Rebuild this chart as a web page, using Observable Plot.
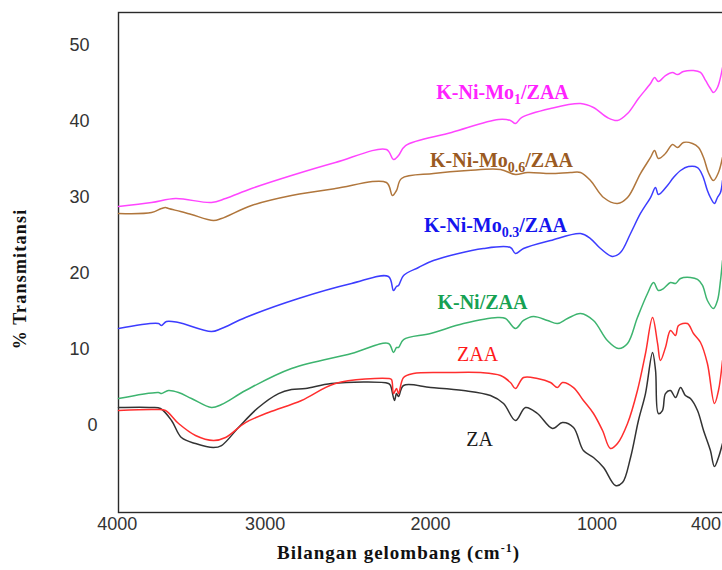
<!DOCTYPE html>
<html>
<head>
<meta charset="utf-8">
<script src="https://cdn.jsdelivr.net/npm/d3@7"></script>
<script src="https://cdn.jsdelivr.net/npm/@observablehq/plot@0.6"></script>
<style>
  html, body { margin: 0; padding: 0; background: #fff; overflow: hidden; }
  #chart { width: 722px; height: 570px; overflow: hidden; }
  #chart svg { max-width: none !important; display: block; }
</style>
</head>
<body>
<div id="chart"></div>
<script>
// ---- data: [wavenumber (cm-1), % transmittance] ----
const za = [[4000,2.37],[3803,2.37],[3750,2.23],[3684,0.66],[3625,-1.58],[3541,-2.37],[3434,-2.89],[3386,-2.63],[3285,-0.26],[3166,2.37],[3046,4.20],[2969,4.73],[2885,4.86],[2731,5.52],[2391,5.52],[2379,5.26],[2355,3.29],[2343,4.20],[2331,3.81],[2301,5.26],[2140,4.99],[1944,4.60],[1783,3.94],[1705,2.89],[1634,0.66],[1574,2.37],[1503,1.58],[1413,-0.39],[1354,0.39],[1288,-0.26],[1229,-3.29],[1169,-4.20],[1109,-5.52],[1038,-7.88],[996,-7.50],[948,-4.20],[901,0.66],[859,4.20],[817,9.59],[799,7.23],[782,1.58],[758,1.97],[740,4.20],[710,4.60],[680,3.68],[650,4.99],[621,3.94],[591,3.55],[549,1.97],[513,-0.66],[472,-3.29],[448,-5.39],[424,-4.20],[400,-2.37]];
const zaa = [[4000,1.97],[3779,2.10],[3720,1.97],[3642,0.26],[3541,-1.31],[3434,-1.97],[3362,-1.58],[3243,0.39],[3106,1.71],[2909,3.29],[2707,5.52],[2391,6.18],[2373,6.04],[2361,4.20],[2343,4.86],[2331,4.20],[2301,6.31],[2242,6.83],[2039,6.96],[1842,6.96],[1723,6.57],[1664,5.65],[1634,4.86],[1586,6.31],[1503,6.18],[1425,5.65],[1384,4.99],[1354,5.65],[1288,4.99],[1229,3.29],[1169,1.58],[1115,-0.66],[1068,-3.02],[1026,-2.37],[966,0.26],[907,4.60],[859,9.46],[817,14.19],[787,10.78],[770,8.54],[740,10.25],[710,12.48],[680,11.83],[662,13.14],[609,13.40],[573,12.09],[531,10.91],[490,8.15],[448,2.89],[424,4.60],[400,8.54]];
const kni = [[4000,3.55],[3762,4.34],[3744,4.20],[3702,4.60],[3642,4.34],[3565,3.55],[3446,2.37],[3386,2.76],[3243,4.60],[2969,7.49],[2611,9.46],[2391,10.78],[2361,9.59],[2343,10.25],[2331,10.25],[2301,11.30],[2140,12.09],[1944,13.40],[1741,14.19],[1693,14.06],[1634,12.75],[1586,13.80],[1527,14.32],[1443,13.80],[1384,13.40],[1324,14.06],[1246,14.72],[1169,13.80],[1086,11.17],[1020,10.12],[966,10.78],[907,14.19],[847,17.35],[811,18.79],[782,17.74],[752,18.00],[710,18.79],[680,18.66],[650,19.32],[591,19.45],[549,19.19],[519,18.40],[490,16.43],[454,15.37],[430,16.43],[412,19.05],[400,21.68]];
const kniMo03 = [[4000,12.75],[3762,13.40],[3744,13.14],[3714,13.67],[3642,13.53],[3446,12.35],[3386,12.75],[3243,14.19],[2927,16.69],[2611,18.66],[2391,19.58],[2361,17.74],[2343,18.27],[2331,18.40],[2301,19.71],[2212,20.76],[2123,21.68],[1825,23.26],[1664,23.39],[1634,22.60],[1586,23.26],[1425,24.31],[1246,25.23],[1187,24.57],[1127,23.26],[1056,22.21],[1008,22.73],[948,25.23],[889,27.86],[829,29.96],[799,31.27],[782,30.35],[728,31.54],[692,32.59],[650,33.51],[603,34.03],[549,33.90],[519,32.85],[490,30.88],[472,29.96],[448,29.17],[430,29.96],[412,30.62],[400,32.19]];
const kniMo06 = [[4000,27.86],[3803,27.99],[3744,28.52],[3720,28.65],[3702,28.52],[3630,28.12],[3565,27.73],[3434,26.94],[3386,27.20],[3207,28.91],[2969,30.22],[2707,31.14],[2403,31.93],[2367,30.22],[2343,30.88],[2313,32.46],[2123,33.11],[1920,33.51],[1723,33.64],[1634,32.98],[1562,33.25],[1425,33.11],[1306,33.25],[1246,33.25],[1187,32.19],[1109,29.96],[1026,29.17],[966,29.96],[889,33.11],[829,35.22],[805,36.14],[782,35.09],[740,35.74],[698,36.93],[668,36.53],[633,37.19],[579,37.06],[543,36.53],[513,35.22],[484,33.25],[454,32.19],[424,33.25],[400,35.22]];
const kniMo1 = [[4000,28.78],[3803,29.30],[3660,29.83],[3446,29.30],[3362,29.83],[3207,31.14],[2969,32.85],[2707,34.56],[2403,36.27],[2361,34.95],[2331,35.48],[2289,36.79],[2015,38.50],[1735,40.21],[1664,40.08],[1634,39.68],[1598,40.47],[1425,41.66],[1246,42.31],[1169,41.79],[1086,40.47],[1026,40.08],[966,41.00],[901,42.97],[829,44.94],[805,45.73],[782,45.20],[740,45.99],[698,46.39],[668,46.12],[633,46.52],[573,46.65],[531,46.39],[501,45.34],[472,44.28],[454,43.76],[430,44.42],[400,47.04]];

const seriesNames  = ["ZA", "ZAA", "K-Ni/ZAA", "K-Ni-Mo0.3/ZAA", "K-Ni-Mo0.6/ZAA", "K-Ni-Mo1/ZAA"];
const seriesData   = [za, zaa, kni, kniMo03, kniMo06, kniMo1];
const lineColors   = ["#333333", "#ff2e2e", "#3db46f", "#3c3cff", "#b0763c", "#ff45ff"];
const labelColors  = ["#1a1a1a", "#ff1a1a", "#16a152", "#1414ee", "#9a5a22", "#ff22ff"];
const labelWeights = ["normal", "normal", "bold", "bold", "bold", "bold"];
const labelWn      = [1848, 1860, 1831, 1753, 1717, 1711];
const labelT       = [-1.84, 9.33, 16.16, 26.28, 34.82, 43.76];

const yTicks = [0, 10, 20, 30, 40, 50];
const xTickText = ["4000", "3000", "2000", "1000", "400"];
const xTickAt   = [4008, 3126, 2140, 1148, 498];

const xTitle = "Bilangan gelombang (cm-1)";
const yTitle = "% Transmitansi";

const serif = "'Liberation Serif', 'Times New Roman', serif";

const marks = [
  Plot.frame({stroke: "#2a2a2a", strokeWidth: 1.4}),
  ...seriesData.map((pts, i) => Plot.line(pts, {
    x: d => d[0], y: d => d[1], stroke: lineColors[i], strokeWidth: 1.5, curve: "catmull-rom"
  })),
  ...seriesNames.map((name, i) => Plot.text([name], {
    x: () => labelWn[i], y: () => labelT[i], text: d => d,
    fill: labelColors[i], fontWeight: labelWeights[i], fontSize: 20, fontFamily: serif
  })),
  Plot.axisY(yTicks.filter(d => d !== 0), {anchor: "left", tickSize: 0, tickPadding: 29, label: null}),
  Plot.axisY([0], {anchor: "left", tickSize: 0, tickPadding: 21, label: null}),
  Plot.text(xTickText, {x: (d, i) => xTickAt[i], frameAnchor: "bottom", dy: 17, text: d => d}),
  Plot.text([xTitle], {frameAnchor: "bottom", dx: -33.5, dy: 46, text: d => d,
    fontFamily: serif, fontWeight: "bold", fontSize: 19, fill: "#111"})
];

const svg = Plot.plot({
  width: 745, height: 570,
  marginLeft: 118, marginRight: 0, marginTop: 12, marginBottom: 58,
  x: {domain: [4000, 400], range: [118, 722], axis: null},
  y: {domain: [-11.43, 54.27], range: [512, 12], axis: null},
  style: {fontFamily: "'Liberation Sans', Arial, sans-serif", fontSize: "18px", color: "#333", background: "#fff"},
  marks
});
svg.style.maxWidth = "none";

const NS = "http://www.w3.org/2000/svg";
function tspan(parent, txt, attrs = {}) {
  const t = document.createElementNS(NS, "tspan");
  for (const k in attrs) t.setAttribute(k, attrs[k]);
  t.textContent = txt;
  parent.appendChild(t);
}
// sub/superscripts
svg.querySelectorAll("text").forEach(t => {
  const s = t.textContent;
  const m = s.match(/^(K-Ni-Mo)([\d.]+)(\/ZAA)$/);
  if (m) {
    t.textContent = "";
    tspan(t, m[1]);
    tspan(t, m[2], {"font-size": "14px", dy: "5"});
    tspan(t, m[3], {dy: "-5"});
  } else if (s === xTitle) {
    t.textContent = "";
    t.style.letterSpacing = "1px";
    tspan(t, "Bilangan gelombang (cm");
    tspan(t, "-1", {"font-size": "12px", dy: "-7"});
    tspan(t, ")", {dy: "7"});
  }
});
// rotated y-axis title
const yt = document.createElementNS(NS, "text");
yt.setAttribute("transform", "translate(20,279) rotate(-90)");
yt.setAttribute("text-anchor", "middle");
yt.setAttribute("dominant-baseline", "central");
yt.setAttribute("font-family", serif);
yt.setAttribute("font-weight", "bold");
yt.setAttribute("font-size", "18");
yt.setAttribute("fill", "#111");
yt.style.letterSpacing = "1.2px";
yt.textContent = yTitle;
svg.appendChild(yt);

document.getElementById("chart").appendChild(svg);
</script>
</body>
</html>
